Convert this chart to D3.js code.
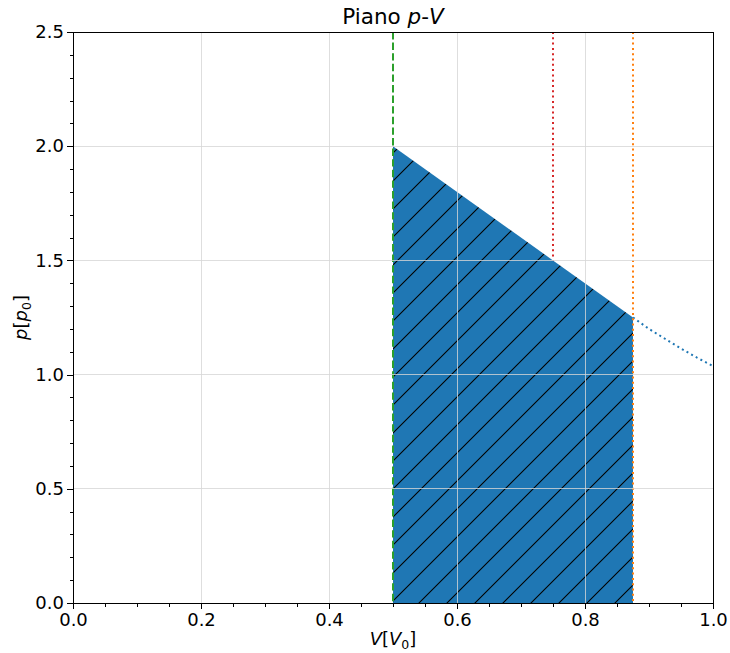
<!DOCTYPE html>
<html>
<head>
<meta charset="utf-8">
<script src="https://cdn.jsdelivr.net/npm/d3@7"></script>
<style>
  body { margin: 0; background: #fff; }
  text { font-family: "DejaVu Sans", sans-serif; }
</style>
</head>
<body>
<svg id="chart" width="730" height="653"></svg>
<script>
// data
var volumes = [0.5, 0.75, 0.875];            // V1, V2, V3 (vertical markers)
var markerColors = ["#2ca02c", "#d62728", "#ff7f0e"];
var markerDash = ["7.4,3.2", "2,3.3", "2,3.3"];

// the straight part that is filled (V, p)
var fillV = [0.5, 0.75, 0.875];
var fillP = [2.0, 1.5, 1.25];

// the dotted part after V3
var tailV = [0.875, 0.9, 0.925, 0.95, 0.975, 1.0];
var tailP = [1.25, 1.20, 1.157, 1.114, 1.074, 1.037];

var xTicks = [0, 0.2, 0.4, 0.6, 0.8, 1.0];
var yTicks = [0, 0.5, 1.0, 1.5, 2.0, 2.5];

// NB: "top" is taken by window.top, so plot edges get their own names
var svg = d3.select("#chart"),
    pLeft = 73, pRight = 713, pTop = 32, pBottom = 603;

var x = d3.scaleLinear().domain([0, 1]).range([pLeft, pRight]),
    y = d3.scaleLinear().domain([0, 2.5]).range([pBottom, pTop]);

// hatch pattern "/"
var defs = svg.append("defs");
var pat = defs.append("pattern")
    .attr("id", "hatch")
    .attr("patternUnits", "userSpaceOnUse")
    .attr("x", 14).attr("y", 0)
    .attr("width", 28).attr("height", 28);
pat.append("rect").attr("width", 28).attr("height", 28).attr("fill", "#1f77b4");
pat.append("path")
    .attr("d", "M0,28L28,0M-2,2L2,-2M26,30L30,26")
    .attr("stroke", "#000").attr("stroke-width", 1.1);

defs.append("clipPath").attr("id", "clip")
  .append("rect").attr("x", pLeft).attr("y", pTop)
    .attr("width", pRight - pLeft).attr("height", pBottom - pTop);

var plot = svg.append("g").attr("clip-path", "url(#clip)");

// red marker sits under the fill
plot.append("line")
    .attr("x1", x(volumes[1])).attr("x2", x(volumes[1]))
    .attr("y1", pTop).attr("y2", pBottom)
    .attr("stroke", markerColors[1]).attr("stroke-width", 2)
    .attr("stroke-dasharray", markerDash[1]);

// filled area under the line
var fillData = fillV.map(function(v, i) { return [v, fillP[i]]; });
plot.append("path")
    .datum(fillData)
    .attr("d", d3.area().x(function(d) { return x(d[0]); })
        .y0(y(0)).y1(function(d) { return y(d[1]); }))
    .attr("fill", "url(#hatch)");

// grid on top of the fill
var grid = svg.append("g").attr("shape-rendering", "crispEdges");
grid.selectAll(".gx").data(xTicks).enter().append("line")
    .attr("x1", function(d) { return x(d); }).attr("x2", function(d) { return x(d); })
    .attr("y1", pTop).attr("y2", pBottom);
grid.selectAll(".gy").data(yTicks).enter().append("line")
    .attr("y1", function(d) { return y(d); }).attr("y2", function(d) { return y(d); })
    .attr("x1", pLeft).attr("x2", pRight);
grid.selectAll("line").attr("stroke", "#d6d6d6").attr("stroke-opacity", 0.8).attr("stroke-width", 1);

// dotted tail
var tailData = tailV.map(function(v, i) { return [v, tailP[i]]; });
plot.append("path")
    .datum(tailData)
    .attr("d", d3.line().x(function(d) { return x(d[0]); }).y(function(d) { return y(d[1]); }))
    .attr("fill", "none").attr("stroke", "#1f77b4").attr("stroke-width", 2)
    .attr("stroke-dasharray", "2,3.3");

// green + orange markers on top
[0, 2].forEach(function(i) {
  plot.append("line")
      .attr("x1", x(volumes[i])).attr("x2", x(volumes[i]))
      .attr("y1", pTop).attr("y2", pBottom)
      .attr("stroke", markerColors[i]).attr("stroke-width", 2)
      .attr("stroke-dasharray", markerDash[i]);
});

// axes - major
var fmt = d3.format(".1f");
svg.append("g").attr("transform", "translate(0," + pBottom + ")")
    .call(d3.axisBottom(x).tickValues(xTicks).tickFormat(fmt).tickSize(6).tickPadding(4))
    .call(styleAxis);
svg.append("g").attr("transform", "translate(" + pLeft + ",0)")
    .call(d3.axisLeft(y).tickValues(yTicks).tickFormat(fmt).tickSize(6).tickPadding(3))
    .call(styleAxis);

// axes - minor
svg.append("g").attr("transform", "translate(0," + pBottom + ")")
    .call(d3.axisBottom(x).tickValues(d3.range(0, 1.001, 0.05)).tickFormat("").tickSize(3.5))
    .call(styleAxis);
svg.append("g").attr("transform", "translate(" + pLeft + ",0)")
    .call(d3.axisLeft(y).tickValues(d3.range(0, 2.501, 0.1)).tickFormat("").tickSize(3.5))
    .call(styleAxis);

function styleAxis(g) {
  g.select(".domain").remove();
  g.selectAll("line").attr("stroke", "#000").attr("stroke-width", 1).attr("shape-rendering", "crispEdges");
  g.selectAll("text").attr("font-size", 18).attr("fill", "#000")
      .attr("font-family", "DejaVu Sans, sans-serif");
}

// frame
svg.append("rect")
    .attr("x", pLeft).attr("y", pTop)
    .attr("width", pRight - pLeft).attr("height", pBottom - pTop)
    .attr("fill", "none").attr("stroke", "#000").attr("stroke-width", 1)
    .attr("shape-rendering", "crispEdges");

// title
var title = svg.append("text")
    .attr("x", (pLeft + pRight) / 2).attr("y", 24)
    .attr("text-anchor", "middle").attr("font-size", 21.5);
title.append("tspan").text("Piano ");
title.append("tspan").attr("font-style", "italic").text("p");
title.append("tspan").text("-");
title.append("tspan").attr("font-style", "italic").text("V");

// x label
var xl = svg.append("text")
    .attr("x", (pLeft + pRight) / 2).attr("y", 645)
    .attr("text-anchor", "middle").attr("font-size", 18);
xl.append("tspan").attr("font-style", "italic").text("V");
xl.append("tspan").text("[");
xl.append("tspan").attr("font-style", "italic").text("V");
xl.append("tspan").attr("font-size", 12.5).attr("dy", 4).text("0");
xl.append("tspan").attr("dy", -4).text("]");

// y label
var yl = svg.append("text")
    .attr("transform", "translate(27," + ((pTop + pBottom) / 2) + ") rotate(-90)")
    .attr("text-anchor", "middle").attr("font-size", 18);
yl.append("tspan").attr("font-style", "italic").text("p");
yl.append("tspan").text("[");
yl.append("tspan").attr("font-style", "italic").text("p");
yl.append("tspan").attr("font-size", 12.5).attr("dy", 4).text("0");
yl.append("tspan").attr("dy", -4).text("]");
</script>
</body>
</html>
